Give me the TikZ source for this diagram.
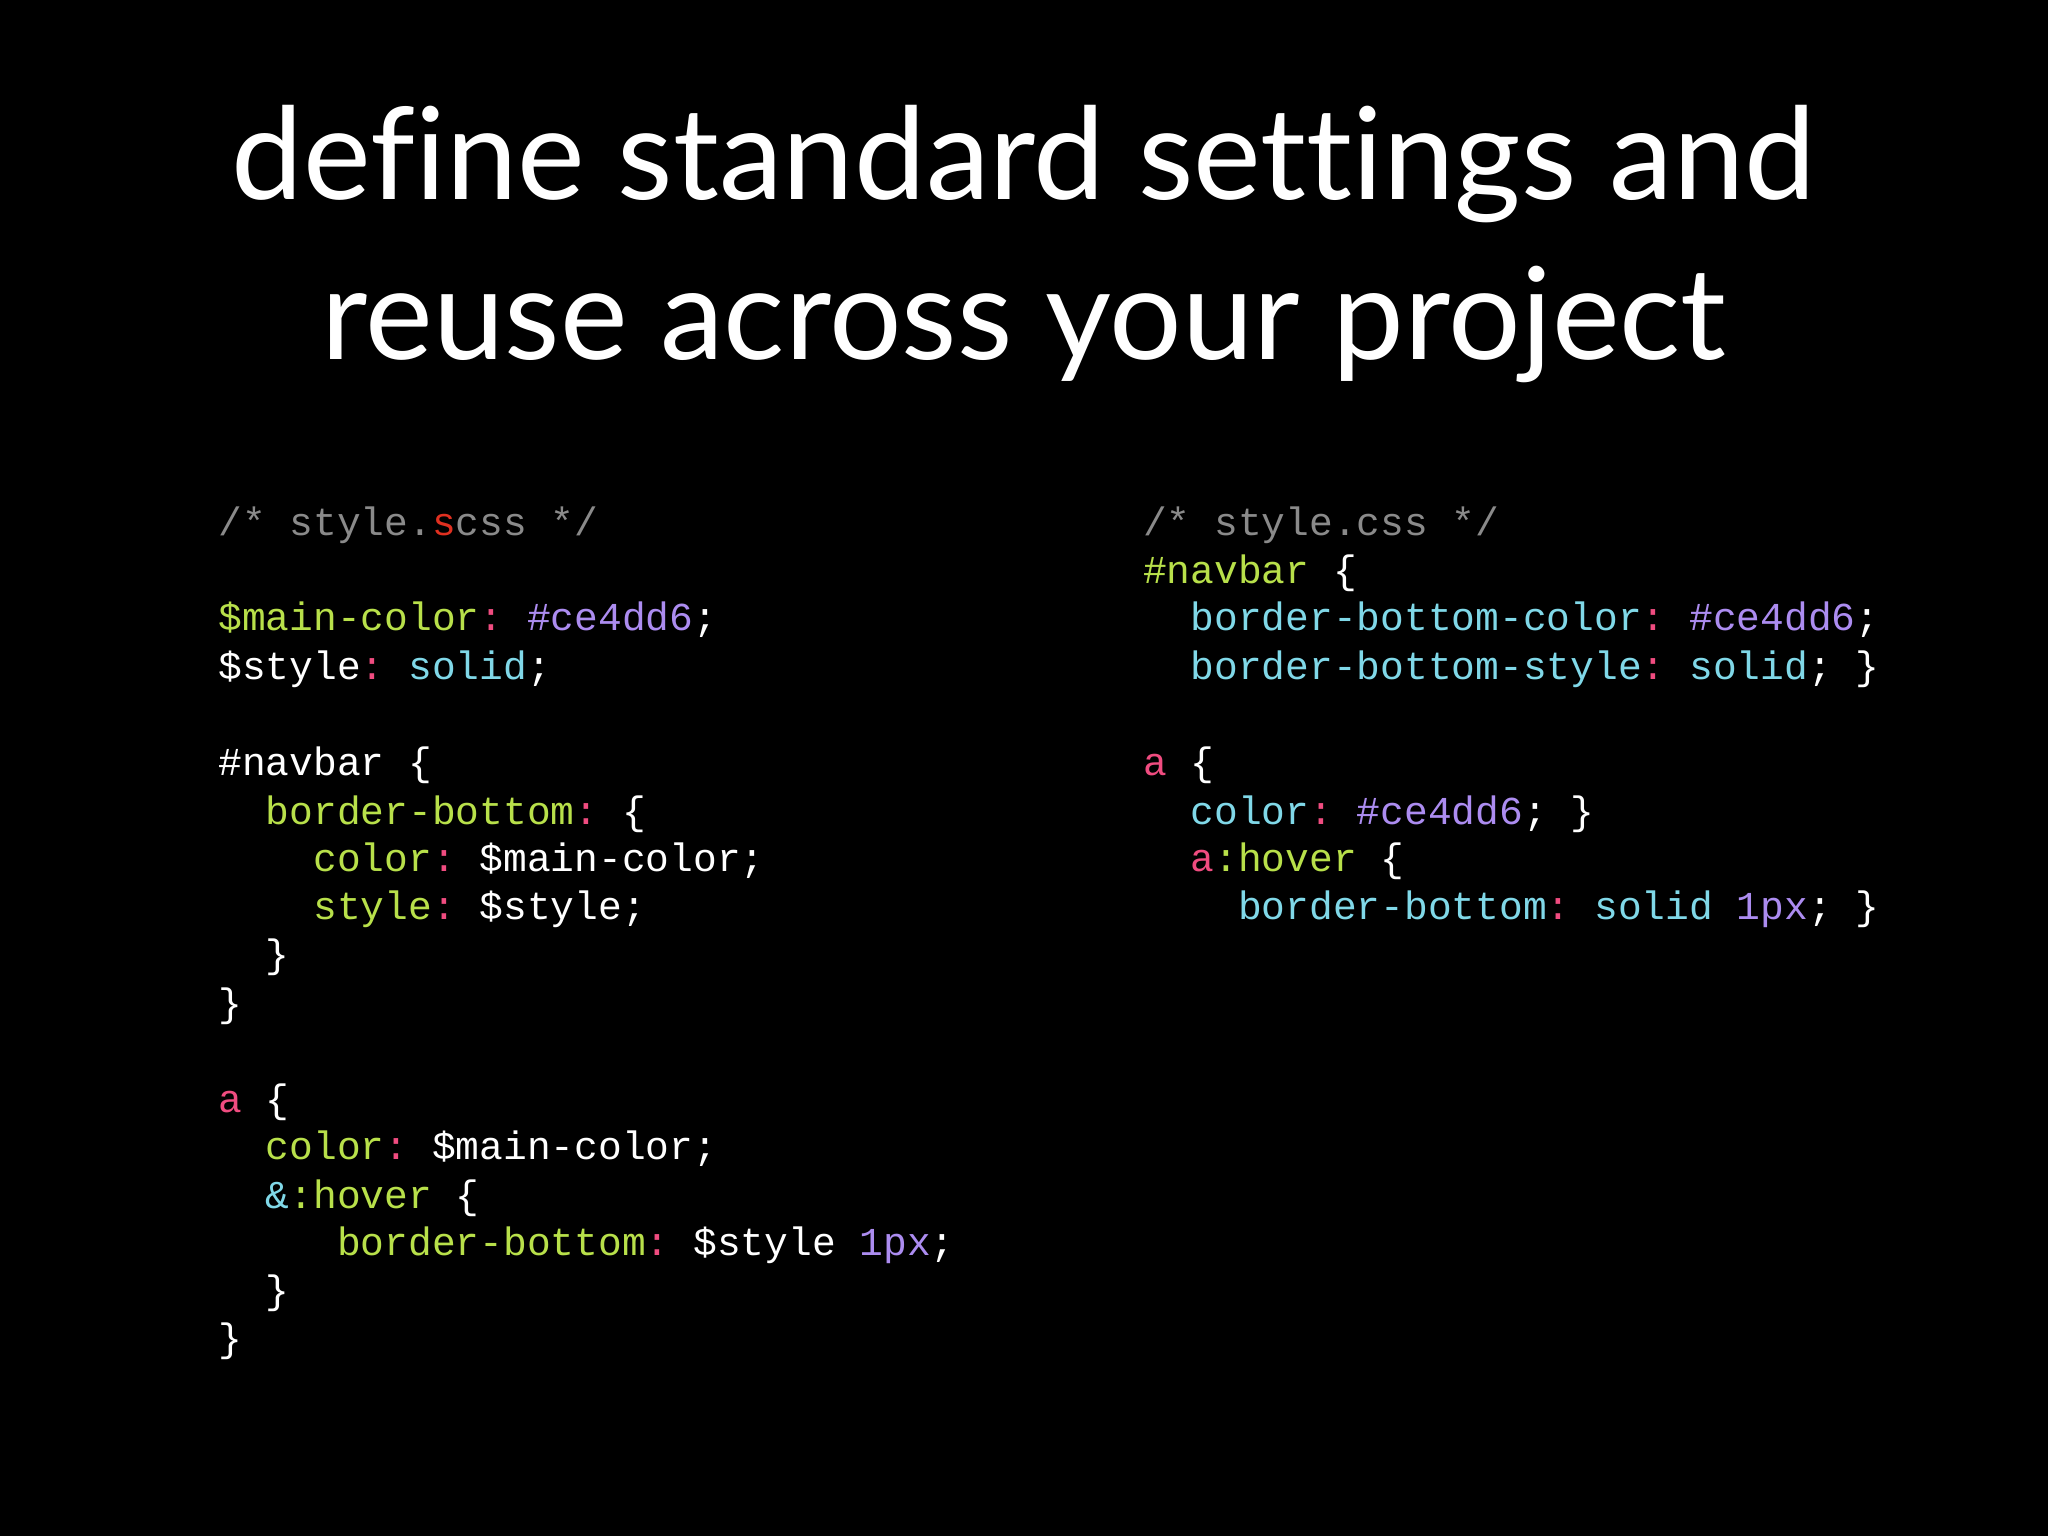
\documentclass[tikz,border=0pt]{standalone}
\usepackage{fontspec}
\setmainfont{Lato}[Ligatures={NoCommon,NoRare},Contextuals=NoAlternate]
\setmonofont{Liberation Mono}
\definecolor{cG}{HTML}{B8E04A}
\definecolor{cP}{HTML}{AC8CF0}
\definecolor{cC}{HTML}{80D8E8}
\definecolor{cK}{HTML}{F04C80}
\definecolor{cM}{HTML}{8A8A8A}
\definecolor{cR}{HTML}{E03020}
\newcommand\G[1]{\textcolor{cG}{#1}}
\newcommand\Pu[1]{\textcolor{cP}{#1}}
\newcommand\Cy[1]{\textcolor{cC}{#1}}
\newcommand\K[1]{\textcolor{cK}{#1}}
\newcommand\Co{\textcolor{cK}{:}}
\begin{document}
\begin{tikzpicture}[x=1pt,y=-1pt,
  code/.style={anchor=base west,inner sep=0pt,text=white,font=\ttfamily\fontsize{30.3}{30}\selectfont},
  ttl/.style={text=white,font=\fontsize{98}{98}\selectfont,anchor=base,inner sep=0pt}]
\fill[black] (0,0) rectangle (1568,1176);
\useasboundingbox (0,0) rectangle (1568,1176);
\node[ttl] (t1) at (784,153) {define standard settings and};
\node[ttl] (t2) at (784,275) {reuse across your project};
\def\cw{18.2}
\def\L{167}
\def\R{875}
% left
\node[code] (l1) at (\L,410) {\textcolor{cM}{/* style.\textcolor{cR}{s}css */}};
\node[code] (l2) at (\L,483) {\G{\$main-color}\Co{} \Pu{\#ce4dd6};};
\node[code] (l3) at (\L,520) {\$style\Co{} \Cy{solid};};
\node[code] (l4) at (\L,594) {\#navbar \{};
\node[code] (l5) at (\L+2*\cw,631) {\G{border-bottom}\Co{} \{};
\node[code] (l6) at (\L+4*\cw,667) {\G{color}\Co{} \$main-color;};
\node[code] (l7) at (\L+4*\cw,704) {\G{style}\Co{} \$style;};
\node[code] (l8) at (\L+2*\cw,741) {\}};
\node[code] (l9) at (\L,778) {\}};
\node[code] (l10) at (\L,852) {\K{a} \{};
\node[code] (l11) at (\L+2*\cw,888) {\G{color}\Co{} \$main-color;};
\node[code] (l12) at (\L+2*\cw,925) {\Cy{\&}\G{:hover} \{};
\node[code] (l13) at (\L+5*\cw,961) {\G{border-bottom}\Co{} \$style \Pu{1px};};
\node[code] (l14) at (\L+2*\cw,998) {\}};
\node[code] (l15) at (\L,1035) {\}};
% right
\node[code] (r1) at (\R,410) {\textcolor{cM}{/* style.css */}};
\node[code] (r2) at (\R,447) {\G{\#navbar} \{};
\node[code] (r3) at (\R+2*\cw,483) {\Cy{border-bottom-color}\Co{} \Pu{\#ce4dd6};};
\node[code] (r4) at (\R+2*\cw,520) {\Cy{border-bottom-style}\Co{} \Cy{solid}; \}};
\node[code] (r5) at (\R,594) {\K{a} \{};
\node[code] (r6) at (\R+2*\cw,631) {\Cy{color}\Co{} \Pu{\#ce4dd6}; \}};
\node[code] (r7) at (\R+2*\cw,667) {\K{a}\G{:hover} \{};
\node[code] (r8) at (\R+4*\cw,704) {\Cy{border-bottom}\Co{} \Cy{solid} \Pu{1px}; \}};
\end{tikzpicture}
\end{document}
